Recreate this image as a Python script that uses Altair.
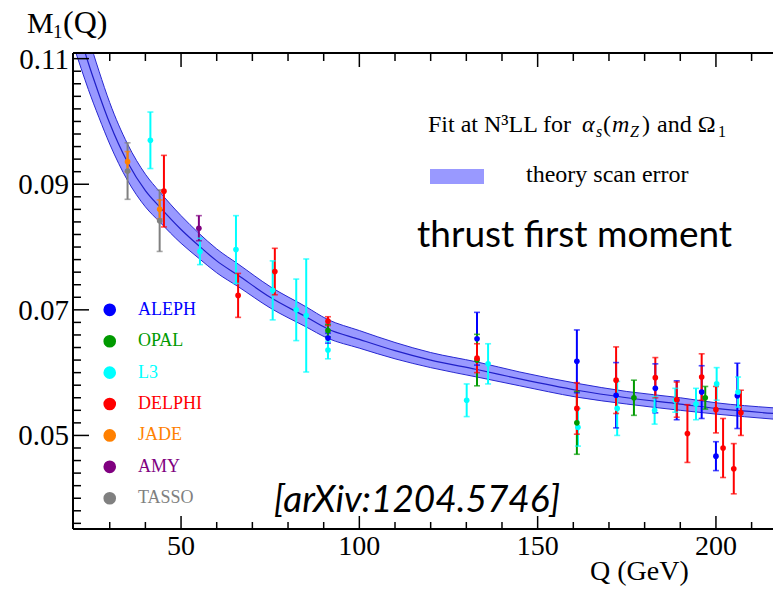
import altair as alt
import pandas as pd

# ---------------- data ----------------
experiments = ["ALEPH", "OPAL", "L3", "DELPHI", "JADE", "AMY", "TASSO"]
exp_colors = ["#0000FF", "#009A00", "#00FFFF", "#FF0000", "#FF8000", "#800080", "#808080"]

aleph_q = [91.2, 133.0, 161.0, 172.0, 183.0, 189.0, 196.0, 200.0, 206.0]
aleph_m = [0.0655, 0.0654, 0.0618, 0.0564, 0.0575, 0.0556, 0.0569, 0.0467, 0.0563]
aleph_e = [0.0008, 0.0042, 0.0050, 0.0052, 0.0039, 0.0031, 0.0042, 0.0023, 0.0052]

opal_q = [91.2, 133.0, 161.0, 177.0, 197.0]
opal_m = [0.0667, 0.0620, 0.0520, 0.0560, 0.0560]
opal_e = [0.0010, 0.0041, 0.0050, 0.0028, 0.0018]

l3_q = [41.4, 55.3, 65.4, 75.7, 82.3, 85.1, 91.2, 130.1, 136.1, 161.3, 172.3, 182.8, 188.6, 194.4, 200.2, 206.2]
l3_m = [0.0970, 0.0793, 0.0796, 0.0731, 0.0700, 0.0691, 0.0636, 0.0556, 0.0614, 0.0513, 0.0543, 0.0540, 0.0556, 0.0550, 0.0582, 0.0569]
l3_e = [0.0045, 0.0021, 0.0054, 0.0047, 0.0049, 0.0090, 0.0014, 0.0026, 0.0032, 0.0030, 0.0043, 0.0022, 0.0019, 0.0025, 0.0026, 0.0024]

delphi_q = [45.2, 66.0, 76.3, 91.2, 133.0, 161.0, 172.0, 183.0, 189.0, 192.0, 196.0, 200.0, 202.0, 205.0, 207.0]
delphi_m = [0.0889, 0.0723, 0.0761, 0.0682, 0.0623, 0.0543, 0.0588, 0.0592, 0.0557, 0.0503, 0.0593, 0.0541, 0.0480, 0.0447, 0.0536]
delphi_e = [0.0057, 0.0035, 0.0037, 0.0007, 0.0023, 0.0041, 0.0053, 0.0032, 0.0028, 0.0046, 0.0037, 0.0037, 0.0047, 0.0040, 0.0036]

jade_q = [35.0, 44.0]
jade_m = [0.0936, 0.0860]
jade_e = [0.0016, 0.0015]

amy_q = [55.0]
amy_m = [0.0830]
amy_e = [0.0020]

tasso_q = [35.0, 44.0]
tasso_m = [0.0921, 0.0842]
tasso_e = [0.0045, 0.0049]

# theory band (central value and half width)
curve_q = [20, 22, 24, 27, 30, 35, 40, 44, 50, 55, 60, 66, 75, 85, 91, 100, 110, 120, 133, 145, 161, 175, 190, 200, 216]
curve_m = [0.1168, 0.1130, 0.1093, 0.1043, 0.0997, 0.0935, 0.0890, 0.0864, 0.0828, 0.0802, 0.0778, 0.0755, 0.0720,
           0.0689, 0.0670, 0.0653, 0.0635, 0.0620, 0.0605, 0.0590, 0.0572, 0.0560, 0.0550, 0.0543, 0.0535]
curve_hw = [0.0050, 0.0046, 0.0042, 0.0037, 0.0033, 0.0029, 0.0026, 0.0024, 0.0022, 0.0020, 0.0019, 0.0018, 0.0017,
            0.0016, 0.0015, 0.0014, 0.0013, 0.0012, 0.0012, 0.0011, 0.0011, 0.0010, 0.0010, 0.0009, 0.0009]

x_major = [50, 100, 150, 200]
x_labels = ["50", "100", "150", "200"]
y_major = [0.05, 0.07, 0.09, 0.11]
y_labels = ["0.05", "0.07", "0.09", "0.11"]

# ---------------- tables ----------------
series = {
    "TASSO": (tasso_q, tasso_m, tasso_e),
    "ALEPH": (aleph_q, aleph_m, aleph_e),
    "L3": (l3_q, l3_m, l3_e),
    "OPAL": (opal_q, opal_m, opal_e),
    "DELPHI": (delphi_q, delphi_m, delphi_e),
    "JADE": (jade_q, jade_m, jade_e),
    "AMY": (amy_q, amy_m, amy_e),
}
rows = []
for name, (qs, ms, es) in series.items():
    for q, m, e in zip(qs, ms, es):
        rows.append({"exp": name, "Q": q, "M": m, "lo": m - e, "hi": m + e})
pts = pd.DataFrame(rows)
caps = pd.concat([
    pts[["exp", "Q", "lo"]].rename(columns={"lo": "v"}),
    pts[["exp", "Q", "hi"]].rename(columns={"hi": "v"}),
])

band_df = pd.DataFrame({
    "Q": curve_q,
    "M": curve_m,
    "lo": [m - h for m, h in zip(curve_m, curve_hw)],
    "hi": [m + h for m, h in zip(curve_m, curve_hw)],
})

legend_df = pd.DataFrame({
    "exp": experiments,
    "ly": [0.070 - 0.005 * i for i in range(len(experiments))],
    "lx": [30.0] * len(experiments),
    "tx": [37.9] * len(experiments),
})

y_minor = [round(0.036 + 0.002 * i, 3) for i in range(38)]
y_minor = [v for v in y_minor if all(abs(v - mj) > 1e-6 for mj in y_major)]
x_minor = [v for v in range(30, 216, 10) if v not in x_major]

# ---------------- layout ----------------
W, H = 700, 476
SERIF = "Liberation Serif"
xs = alt.Scale(domain=[19.7, 216.0], nice=False, zero=False)
ys = alt.Scale(domain=[0.0351, 0.1109], nice=False, zero=False)
cscale = alt.Scale(domain=experiments, range=exp_colors)

X = lambda f: alt.X(f, scale=xs, axis=None)
Y = lambda f: alt.Y(f, scale=ys, axis=None)

band = alt.Chart(band_df).mark_area(color="#9999FF", opacity=1, clip=True, interpolate="monotone").encode(
    x=X("Q:Q"), y=Y("lo:Q"), y2="hi:Q")
edge_lo = alt.Chart(band_df).mark_line(color="#2828D0", strokeWidth=1, clip=True, interpolate="monotone").encode(
    x=X("Q:Q"), y=Y("lo:Q"))
edge_hi = alt.Chart(band_df).mark_line(color="#2828D0", strokeWidth=1, clip=True, interpolate="monotone").encode(
    x=X("Q:Q"), y=Y("hi:Q"))
center = alt.Chart(band_df).mark_line(color="#2020C8", strokeWidth=1.2, clip=True, interpolate="monotone").encode(
    x=X("Q:Q"), y=Y("M:Q"))

bars = alt.Chart(pts).mark_rule(strokeWidth=2).encode(
    x=X("Q:Q"), y=Y("lo:Q"), y2="hi:Q",
    color=alt.Color("exp:N", scale=cscale, legend=None))
capmarks = alt.Chart(caps).mark_tick(orient="horizontal", size=6, thickness=1.6).encode(
    x=X("Q:Q"), y=Y("v:Q"),
    color=alt.Color("exp:N", scale=cscale, legend=None))
dots = alt.Chart(pts).mark_circle(size=32, opacity=1).encode(
    x=X("Q:Q"), y=Y("M:Q"),
    color=alt.Color("exp:N", scale=cscale, legend=None))

# frame lines
one = pd.DataFrame({"a": [0]})
frame = [
    alt.Chart(one).mark_rule(color="black", strokeWidth=2).encode(x=alt.value(0), x2=alt.value(W), y=alt.value(0)),
    alt.Chart(one).mark_rule(color="black", strokeWidth=2).encode(x=alt.value(0), x2=alt.value(W), y=alt.value(H)),
    alt.Chart(one).mark_rule(color="black", strokeWidth=2).encode(x=alt.value(0), y=alt.value(0), y2=alt.value(H)),
]

# frame ticks (inward)
def yticks(vals, length):
    return alt.Chart(pd.DataFrame({"v": vals})).mark_rule(color="black", strokeWidth=1.5).encode(
        y=Y("v:Q"), x=alt.value(0), x2=alt.value(length))

def xticks(vals, length, top):
    base = alt.Chart(pd.DataFrame({"v": vals})).mark_rule(color="black", strokeWidth=1.5)
    if top:
        return base.encode(x=X("v:Q"), y=alt.value(0), y2=alt.value(length))
    return base.encode(x=X("v:Q"), y=alt.value(H), y2=alt.value(H - length))

# tick labels
xlab = alt.Chart(pd.DataFrame({"v": x_major, "t": x_labels})).mark_text(
    align="center", baseline="alphabetic", font=SERIF, fontSize=28, color="black").encode(
    x=X("v:Q"), y=alt.value(H + 26), text="t:N")
ylab = alt.Chart(pd.DataFrame({"v": y_major, "t": y_labels})).mark_text(
    align="right", baseline="middle", font=SERIF, fontSize=29, color="black", dy=1).encode(
    x=alt.value(-4), y=Y("v:Q"), text="t:N")

# legend of experiments
leg_dots = alt.Chart(legend_df).mark_circle(size=160, opacity=1).encode(
    x=X("lx:Q"), y=Y("ly:Q"), color=alt.Color("exp:N", scale=cscale, legend=None))
leg_text = alt.Chart(legend_df).mark_text(align="left", baseline="middle", font=SERIF, fontSize=18).encode(
    x=X("tx:Q"), y=Y("ly:Q"), text="exp:N", color=alt.Color("exp:N", scale=cscale, legend=None))

# theory legend swatch
swatch = alt.Chart(one).mark_rect(color="#9999FF").encode(
    x=alt.value(357), x2=alt.value(411), y=alt.value(116), y2=alt.value(131))

def label(text, x, y, size, font=SERIF, style="normal", align="left", color="black"):
    return alt.Chart(pd.DataFrame({"t": [text]})).mark_text(
        align=align, baseline="alphabetic", font=font, fontSize=size, fontStyle=style, color=color
    ).encode(x=alt.value(x), y=alt.value(y), text="t:N")

texts = [
    label("M", -46, -20, 30),
    label("1", -20, -15, 19),
    label("(Q)", -10, -20, 32),
    label("Q (GeV)", 517, 527, 28),
    label("Fit at N³LL for", 355, 79, 24),
    label("α", 509, 79, 24, style="italic"),
    label("s", 523, 84, 16, style="italic"),
    label("(", 530, 79, 24),
    label("m", 539, 79, 24, style="italic"),
    label("Z", 557, 84, 16, style="italic"),
    label(")", 569, 79, 24),
    label("and Ω", 584, 79, 24),
    label("1", 645, 84, 16),
    label("theory scan error", 453, 129, 24),
    label("thrust first moment", 344, 194, 37, font="Lato"),
    label("[arXiv:1204.5746]", 344, 459, 37, font="Lato", style="italic", align="center"),
]

chart = alt.layer(
    band, edge_lo, edge_hi, center,
    bars, capmarks, dots,
    *frame,
    yticks(y_major, 16), yticks(y_minor, 8),
    xticks(x_major, 13, False), xticks(x_minor, 7, False),
    xticks(x_major, 14, True), xticks(x_minor, 8, True),
    xlab, ylab,
    leg_dots, leg_text, swatch,
    *texts,
).properties(
    width=W, height=H,
    padding={"left": 73, "top": 53, "right": 0, "bottom": 62},
    autosize=alt.AutoSizeParams(type="none"),
).configure_view(stroke=None)

chart.save("out.html", embed_options={"renderer": "svg", "actions": False})
